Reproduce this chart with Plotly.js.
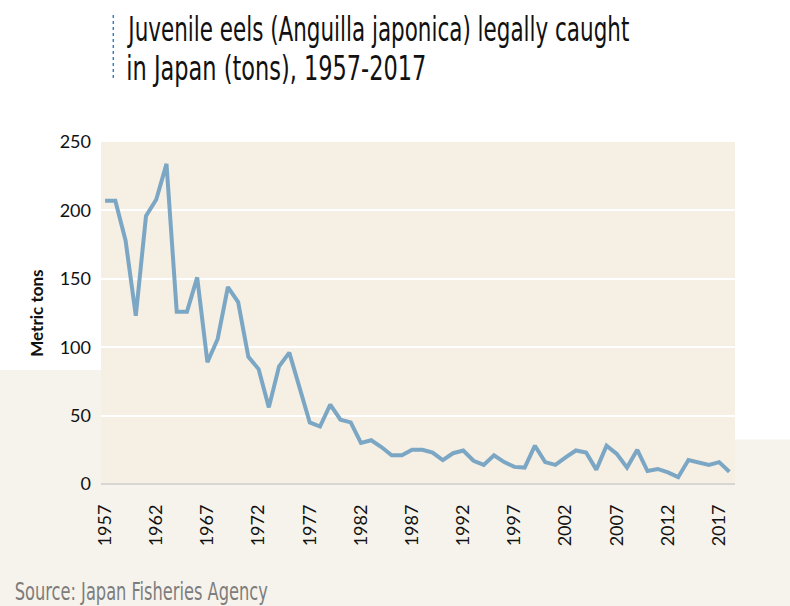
<!DOCTYPE html>
<html>
<head>
<meta charset="utf-8">
<script src="https://cdn.plot.ly/plotly-3.0.1.min.js"></script>
<style>
  html, body { margin: 0; padding: 0; background: #ffffff; }
  #chart { width: 790px; height: 606px; }
</style>
</head>
<body>
<div id="chart"></div>
<script>
// Data
const years = [1957,1958,1959,1960,1961,1962,1963,1964,1965,1966,1967,1968,1969,1970,1971,1972,1973,1974,1975,1976,1977,1978,1979,1980,1981,1982,1983,1984,1985,1986,1987,1988,1989,1990,1991,1992,1993,1994,1995,1996,1997,1998,1999,2000,2001,2002,2003,2004,2005,2006,2007,2008,2009,2010,2011,2012,2013,2014,2015,2016,2017,2018];
const tons = [207,207,178,123,196,208,234,126,126,151,89,106,144,133,93,84,56,86,96,70,45,42,58,47,45,30,32,27,21,21,25,25,23,17.5,22.5,24.5,17,14,21,16,12.5,12,28,16,14,19.5,24.5,23,10.5,28,22,12,25,9.5,11,8.5,5,17.5,16,14,16,9];
const xTickVals = [1957,1962,1967,1972,1977,1982,1987,1992,1997,2002,2007,2012,2017];
const xTickText = ['1957','1962','1967','1972','1977','1982','1987','1992','1997','2002','2007','2012','2017'];
const yTickVals = [0,50,100,150,200,250];
const titleLine1 = 'Juvenile eels (Anguilla japonica) legally caught';
const titleLine2 = 'in Japan (tons), 1957-2017';
const yTitle = 'Metric tons';
const sourceText = 'Source: Japan Fisheries Agency';

const condensed = '"DejaVu Sans Condensed", "Liberation Sans Narrow", "Liberation Sans", sans-serif';
const tickFont = 'Lato, "Noto Sans", sans-serif';

const trace = {
  x: years,
  y: tons,
  type: 'scatter',
  mode: 'lines',
  line: { color: '#7ba7c5', width: 4, shape: 'linear' },
  hoverinfo: 'x+y'
};

const texture = '#f6f3ec';

const layout = {
  width: 790,
  height: 606,
  margin: { l: 101, r: 55, t: 142, b: 122 },
  paper_bgcolor: '#ffffff',
  plot_bgcolor: '#f6efe4',
  showlegend: false,
  xaxis: {
    range: [1956.6, 2018.55],
    tickmode: 'array',
    tickvals: xTickVals,
    ticktext: xTickText,
    tickangle: -90,
    ticks: '',
    ticklabelstandoff: 16,
    showgrid: false,
    zeroline: false,
    showline: false,
    tickfont: { family: tickFont, size: 18, color: '#111111' }
  },
  yaxis: {
    range: [0, 250],
    tickmode: 'array',
    tickvals: yTickVals,
    ticks: '',
    ticklabelstandoff: 9,
    showgrid: true,
    gridcolor: '#ffffff',
    gridwidth: 2,
    zeroline: true,
    zerolinecolor: '#d8d6d2',
    zerolinewidth: 2,
    showline: false,
    tickfont: { family: tickFont, size: 18, color: '#111111' }
  },
  shapes: [
    // light lower background around the plot (left, right, bottom strips)
    { type: 'rect', xref: 'paper', yref: 'paper', x0: -0.2, x1: 0, y0: -0.36, y1: 0.333,
      fillcolor: texture, line: { width: 0 }, layer: 'below' },
    { type: 'rect', xref: 'paper', yref: 'paper', x0: 1, x1: 1.2, y0: -0.36, y1: 0.13,
      fillcolor: texture, line: { width: 0 }, layer: 'below' },
    { type: 'rect', xref: 'paper', yref: 'paper', x0: -0.2, x1: 1.2, y0: -0.36, y1: 0,
      fillcolor: texture, line: { width: 0 }, layer: 'below' },
    // dashed vertical bar beside the title
    { type: 'line', xref: 'paper', yref: 'paper', x0: 0.0194, x1: 0.0194, y0: 1.371, y1: 1.187,
      line: { color: '#3f7dbf', width: 1.5, dash: '3px,3px' } }
  ],
  annotations: [
    { text: titleLine1, xref: 'paper', yref: 'paper', x: 0.4362, y: 1.3304,
      xanchor: 'center', yanchor: 'middle', align: 'center', showarrow: false,
      font: { family: condensed, size: 34, color: '#111111' } },
    { text: titleLine2, xref: 'paper', yref: 'paper', x: 0.2776, y: 1.2164,
      xanchor: 'center', yanchor: 'middle', align: 'center', showarrow: false,
      font: { family: condensed, size: 34, color: '#111111' } },
    { text: yTitle, xref: 'paper', yref: 'paper', x: -0.103, y: 0.5,
      xanchor: 'center', yanchor: 'middle', textangle: -90, showarrow: false,
      font: { family: tickFont, size: 17, color: '#111111', weight: 'bold' } },
    { text: sourceText, xref: 'paper', yref: 'paper', x: 0.0634, y: -0.3165,
      xanchor: 'center', yanchor: 'middle', align: 'center', showarrow: false,
      font: { family: condensed, size: 24, color: '#7d7d7d' } }
  ]
};

// target widths (px) of the condensed text lines, as measured on the reference
const fitWidths = { 0: 501, 1: 300, 3: 253 };

Plotly.newPlot('chart', [trace], layout, { displayModeBar: false, staticPlot: true }).then(function (gd) {
  Object.keys(fitWidths).forEach(function (idx) {
    const t = gd.querySelector('g.annotation[data-index="' + idx + '"] text.annotation-text');
    if (t) {
      t.setAttribute('textLength', fitWidths[idx]);
      t.setAttribute('lengthAdjust', 'spacingAndGlyphs');
    }
  });
});
</script>
</body>
</html>
